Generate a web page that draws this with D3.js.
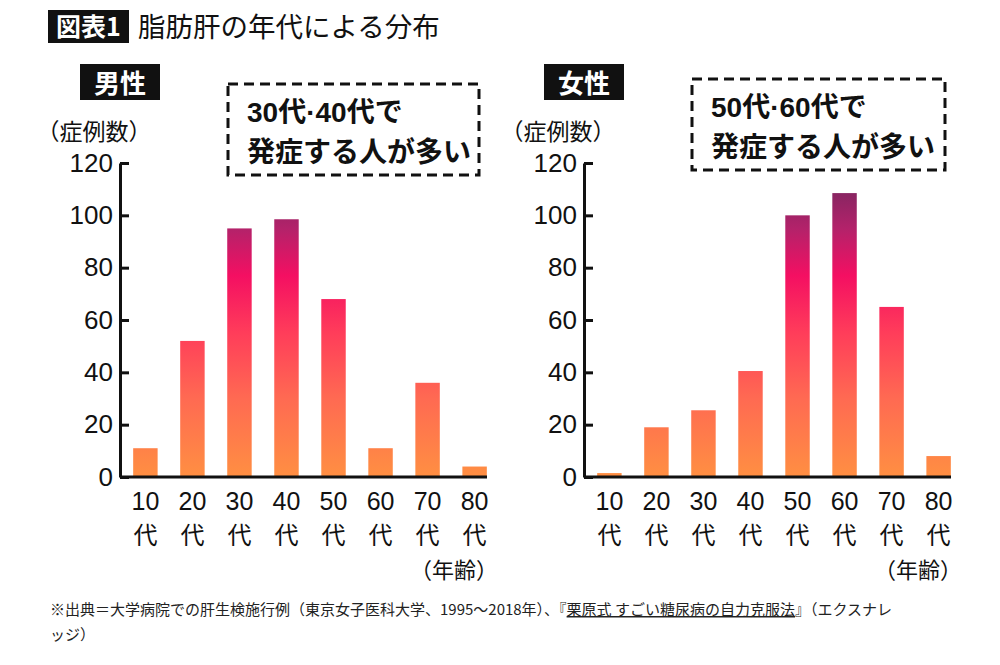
<!DOCTYPE html>
<html>
<head>
<meta charset="utf-8">
<script src="https://cdn.jsdelivr.net/npm/d3@7"></script>
<style>
  body { margin: 0; background: #fff; }
  svg { display: block; font-family: "Liberation Sans", "Noto Sans CJK JP", sans-serif; }
</style>
</head>
<body>
<div id="chart"></div>
<script>
// data
var ages = ["10", "20", "30", "40", "50", "60", "70", "80"];
var maleCounts = [11, 52, 95, 98.5, 68, 11, 36, 4];
var femaleCounts = [1.5, 19, 25.5, 40.5, 100, 108.5, 65, 8];
var yTicks = [0, 20, 40, 60, 80, 100, 120];

var svgWidth = 1000;
var svgHeight = 665;

var svg = d3.select("#chart").append("svg")
  .attr("width", svgWidth)
  .attr("height", svgHeight);

svg.append("rect").attr("width", svgWidth).attr("height", svgHeight).attr("fill", "#fff");

var yScale = d3.scaleLinear().domain([0, 120]).range([477, 163]);

// shared vertical gradient, tied to the value scale
var grad = svg.append("defs").append("linearGradient")
  .attr("id", "barGrad")
  .attr("gradientUnits", "userSpaceOnUse")
  .attr("x1", 0).attr("x2", 0)
  .attr("y1", yScale(0)).attr("y2", yScale(112));
[[0, "#ff8f42"], [30, "#ff6a52"], [55, "#ff3d5a"], [77, "#f40f62"], [95, "#b3226a"], [112, "#7e2660"]]
  .forEach(function (s) {
    grad.append("stop").attr("offset", s[0] / 112).attr("stop-color", s[1]);
  });

// title
svg.append("rect").attr("x", 48).attr("y", 10).attr("width", 81).attr("height", 33).attr("fill", "#111");
svg.append("text").attr("x", 88.5).attr("y", 36).attr("text-anchor", "middle")
  .attr("fill", "#fff").attr("font-size", 25).attr("font-weight", 700)
  .attr("font-family", "'Noto Sans CJK JP', sans-serif")
  .text("図表1");
svg.append("text").attr("x", 138).attr("y", 37)
  .attr("fill", "#111").attr("font-size", 27.5)
  .attr("font-family", "'Noto Sans CJK JP', sans-serif")
  .text("脂肪肝の年代による分布");

function drawPanel(axisX, label, counts, note, noteBox) {
  var g = svg.append("g");

  var xScale = d3.scaleBand()
    .domain(ages)
    .range([axisX, axisX + 380])
    .paddingInner(0.48)
    .paddingOuter(0.28);

  // panel label
  g.append("rect").attr("x", axisX - 40).attr("y", 64).attr("width", 80).attr("height", 36).attr("fill", "#111");
  g.append("text").attr("x", axisX).attr("y", 93).attr("text-anchor", "middle")
    .attr("fill", "#fff").attr("font-size", 26).attr("font-weight", 700)
    .attr("font-family", "'Noto Sans CJK JP', sans-serif")
    .text(label);

  // dashed note box
  g.append("rect")
    .attr("x", noteBox.x).attr("y", noteBox.y)
    .attr("width", noteBox.w).attr("height", noteBox.h)
    .attr("fill", "none").attr("stroke", "#111")
    .attr("stroke-width", 3).attr("stroke-dasharray", "10,6");
  note.forEach(function (line, i) {
    var t = g.append("text")
      .attr("x", noteBox.x + 19).attr("y", noteBox.y + 38 + i * 40)
      .attr("font-size", 28).attr("font-weight", 700).attr("fill", "#111");
    line.forEach(function (part) {
      t.append("tspan")
        .attr("font-family", part.cjk ? "'Noto Sans CJK JP', sans-serif" : "'Liberation Sans', sans-serif")
        .text(part.s);
    });
  });

  // y unit label
  g.append("text").attr("x", axisX - 26).attr("y", 140).attr("text-anchor", "middle")
    .attr("font-size", 23).attr("fill", "#111")
    .attr("font-family", "'Noto Sans CJK JP', sans-serif")
    .text("（症例数）");

  // bars
  g.selectAll(".bar").data(counts).enter().append("rect")
    .attr("class", "bar")
    .attr("x", function (d, i) { return xScale(ages[i]); })
    .attr("y", function (d) { return yScale(d); })
    .attr("width", xScale.bandwidth())
    .attr("height", function (d) { return yScale(0) - yScale(d); })
    .attr("fill", "url(#barGrad)");

  // y axis
  var yAxis = d3.axisLeft(yScale).tickValues(yTicks).tickSizeInner(-9).tickSizeOuter(0).tickPadding(7);
  var ya = g.append("g").attr("transform", "translate(" + axisX + ",0)").call(yAxis);
  ya.selectAll("path, line").attr("stroke", "#111").attr("stroke-width", 3);
  ya.selectAll("text").attr("font-size", 26).attr("fill", "#111")
    .attr("font-family", "'Liberation Sans', sans-serif");

  // baseline
  g.append("line")
    .attr("x1", axisX).attr("x2", axisX + 367)
    .attr("y1", yScale(0)).attr("y2", yScale(0))
    .attr("stroke", "#111").attr("stroke-width", 3);

  // x labels: decade number over "代"
  g.selectAll(".xnum").data(ages).enter().append("text")
    .attr("class", "xnum")
    .attr("x", function (d) { return xScale(d) + xScale.bandwidth() / 2; })
    .attr("y", 510)
    .attr("text-anchor", "middle")
    .attr("font-size", 25).attr("fill", "#111")
    .text(function (d) { return d; });
  g.selectAll(".xdai").data(ages).enter().append("text")
    .attr("class", "xdai")
    .attr("x", function (d) { return xScale(d) + xScale.bandwidth() / 2; })
    .attr("y", 544)
    .attr("text-anchor", "middle")
    .attr("font-size", 24).attr("fill", "#111")
    .attr("font-family", "'Noto Sans CJK JP', sans-serif")
    .text("代");

  g.append("text").attr("x", axisX + 378).attr("y", 578).attr("text-anchor", "end")
    .attr("font-size", 22).attr("fill", "#111")
    .attr("font-family", "'Noto Sans CJK JP', sans-serif")
    .text("（年齢）");
}

var maleNote = [
  [{ s: "30" }, { s: "代", cjk: true }, { s: "·" }, { s: "40" }, { s: "代で", cjk: true }],
  [{ s: "発症する人が多い", cjk: true }]
];
var femaleNote = [
  [{ s: "50" }, { s: "代", cjk: true }, { s: "·" }, { s: "60" }, { s: "代で", cjk: true }],
  [{ s: "発症する人が多い", cjk: true }]
];

drawPanel(120, "男性", maleCounts, maleNote, { x: 228, y: 84, w: 251, h: 91 });
drawPanel(584, "女性", femaleCounts, femaleNote, { x: 692, y: 79, w: 253, h: 91 });

// footer
var ft = svg.append("text").attr("x", 50).attr("y", 615)
  .attr("font-size", 15).attr("fill", "#222")
  .attr("font-family", "'Noto Sans CJK JP', sans-serif");
ft.append("tspan").text("※出典＝大学病院での肝生検施行例（東京女子医科大学、1995～2018年）、『");
ft.append("tspan").attr("text-decoration", "underline").text("栗原式 すごい糖尿病の自力克服法");
ft.append("tspan").text("』（エクスナレ");
svg.append("text").attr("x", 50).attr("y", 640)
  .attr("font-size", 15).attr("fill", "#222")
  .attr("font-family", "'Noto Sans CJK JP', sans-serif")
  .text("ッジ）");
</script>
</body>
</html>
